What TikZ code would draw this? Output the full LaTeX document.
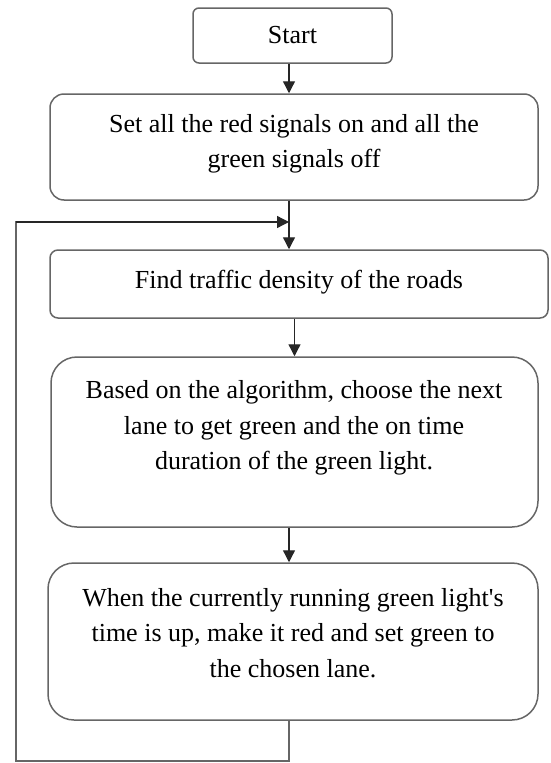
\documentclass[tikz,border=0pt]{standalone}
\usepackage{fontspec}
\newfontfamily\flowfont{Liberation Serif}
\usetikzlibrary{positioning,arrows.meta,calc}

\begin{document}
\begin{tikzpicture}[x=1pt, y=-1pt,
    stepbox/.style={draw=black!60, line width=1.5pt, rounded corners=#1, inner sep=0pt},
    stepbox/.default=8pt,
    steptext/.style={align=center, inner sep=0pt, font=\flowfont\fontsize{26}{35.5}\selectfont},
    flow/.style={draw=black!85, line width=1.3pt, -{Triangle[width=12pt,length=12pt]}},
    loopline/.style={draw=black!60, line width=1.4pt}]
%
    \useasboundingbox (0,0) rectangle (551,763);
%
    \node[stepbox=6pt, minimum width=199pt, minimum height=55pt, steptext] (start) at (292.5,35.5) {Start};
    \node[stepbox=14pt, minimum width=488pt, minimum height=106pt] (setall) at (294,147) {};
    \node[stepbox=8pt, minimum width=498pt, minimum height=68pt] (density) at (299,284) {};
    \node[stepbox=26pt, minimum width=487pt, minimum height=170pt] (choose) at (294.5,442) {};
    \node[stepbox=26pt, minimum width=490pt, minimum height=157pt] (switch) at (293,641.5) {};
%
    \node[steptext] (setalltxt) at (294,144) {Set all the red signals on and all the\\green signals off};
    \node[steptext] (densitytxt) at (299,282) {Find traffic density of the roads};
    \node[steptext] (choosetxt) at (294,428) {Based on the algorithm, choose the next\\lane to get green and the on time\\duration of the green light.};
    \node[steptext] (switchtxt) at (293,633) {When the currently running green light's\\time is up, make it red and set green to\\the chosen lane.};
%
    \coordinate (join) at (289,222);
    \coordinate (loopbl) at (16,761);
%
    \draw[flow] (start.south -| join) -- (setall.north -| join);
    \draw[flow] (setall.south -| join) -- (density.north -| join);
    \draw[flow] (choose.north |- density.south) -- (choose.north);
    \draw[flow] (choose.south -| join) -- (switch.north -| join);
%
    % back to the density step
    \draw[loopline] (switch.south -| join) |- (loopbl) |- ($(join)+(-2,0)$);
    \draw[flow] (loopbl |- join) -- (join);
\end{tikzpicture}
\end{document}
